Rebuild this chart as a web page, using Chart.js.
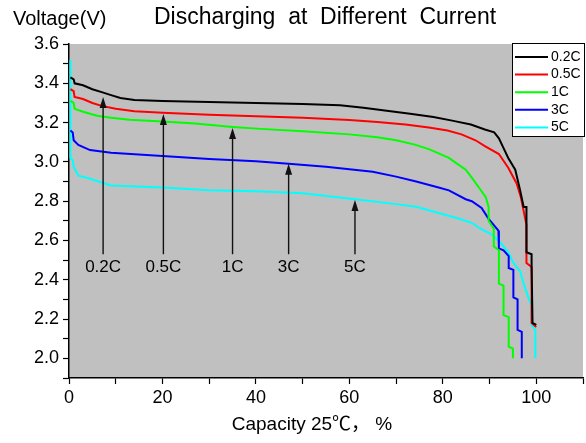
<!DOCTYPE html>
<html>
<head>
<meta charset="utf-8">
<script src="https://cdn.jsdelivr.net/npm/chart.js@4.4.0/dist/chart.umd.min.js"></script>
<style>
  html, body { margin: 0; padding: 0; background: #ffffff; }
  #wrap { width: 586px; height: 443px; position: relative; }
</style>
</head>
<body>
<div id="wrap"><canvas id="c" width="586" height="443"></canvas></div>
<script>
// ---- Data (capacity %, voltage V) ----
const seriesLabels = ['0.2C', '0.5C', '1C', '3C', '5C'];
const seriesColors = ['#000000', '#ff0000', '#00ff00', '#0000ff', '#00ffff'];

const curve02C = [[0.3,3.43],[1,3.42],[1.2,3.40],[3,3.39],[5,3.37],[7,3.355],[9,3.34],[11,3.325],[14,3.315],[20,3.31],[30,3.305],[40,3.30],[50,3.295],[58,3.288],[63,3.275],[68,3.26],[73,3.245],[78,3.228],[82,3.21],[86,3.19],[89,3.165],[91,3.15],[92,3.12],[93,3.07],[94,3.02],[95.5,2.96],[96.5,2.86],[97.3,2.77],[97.9,2.77],[97.9,2.54],[99,2.53],[99,2.47],[99.2,2.18],[100,2.17]];
const curve05C = [[0.3,3.37],[1,3.36],[1.2,3.33],[3,3.32],[5,3.30],[7,3.285],[10,3.27],[14,3.258],[20,3.25],[30,3.24],[40,3.232],[50,3.225],[60,3.213],[66,3.203],[72,3.19],[77,3.175],[81,3.16],[84,3.14],[87,3.11],[89,3.08],[92,3.04],[94,2.97],[95.8,2.89],[96.7,2.82],[97.9,2.68],[97.9,2.485],[99,2.465],[99,2.18],[100,2.16]];
const curve1C = [[0.3,3.31],[1,3.30],[1.2,3.27],[3,3.255],[6,3.235],[9,3.225],[13,3.215],[20,3.205],[27,3.195],[35,3.178],[41,3.168],[50,3.156],[60,3.14],[66,3.125],[70,3.11],[74,3.088],[77,3.065],[79,3.045],[81.3,3.02],[82.8,2.995],[84.9,2.96],[86.2,2.92],[88.1,2.857],[89.2,2.82],[89.8,2.77],[89.8,2.70],[90.9,2.66],[90.9,2.57],[92,2.55],[92,2.38],[93,2.37],[93,2.22],[94.1,2.21],[94.1,2.06],[95,2.05],[95,2.0]];
const curve3C = [[0.3,3.16],[0.8,3.15],[1,3.11],[2,3.086],[4.5,3.06],[9,3.047],[20,3.03],[30,3.015],[40,3.003],[47,2.99],[55,2.975],[65,2.95],[70,2.925],[74.3,2.90],[79.1,2.87],[81.3,2.855],[84.9,2.81],[86.2,2.80],[88.3,2.765],[89.8,2.71],[91.9,2.65],[92,2.56],[93,2.55],[94.1,2.52],[94.1,2.46],[95.1,2.45],[95.1,2.31],[96,2.30],[96,2.145],[96.9,2.135],[96.9,2.0]];
const curve5C = [[0.3,3.52],[0.3,3.02],[0.8,3.01],[1,2.975],[2,2.93],[4,2.918],[9,2.88],[20,2.87],[30,2.855],[40,2.85],[50,2.84],[61.2,2.81],[70,2.785],[74.3,2.772],[79.1,2.74],[83,2.714],[86.2,2.69],[87.7,2.665],[90.5,2.63],[92.3,2.59],[94,2.54],[95,2.49],[96.6,2.44],[97.3,2.38],[98.3,2.31],[99,2.27],[99,2.17],[99.8,2.145],[99.8,2.0]];
const seriesData = [curve02C, curve05C, curve1C, curve3C, curve5C];

// Annotation arrows (capacity, tip voltage, base voltage) and labels
const arrowLabels = ['0.2C', '0.5C', '1C', '3C', '5C'];
const arrowX = [7.3, 20.2, 35, 47, 61.2];
const arrowTipY = [3.33, 3.244, 3.172, 2.99, 2.806];
const arrowBaseY = 2.53;
const arrowLabelY = 2.465;

// Axis ranges / ticks
const xMin = 0, xMax = 110, xStep = 10, xLabelEvery = 20;
const yMin = 1.9, yMax = 3.6, yStep = 0.1;

const titleText = 'Discharging  at  Different  Current';
const yTitleText = 'Voltage(V)';
const xTitleText = 'Capacity 25\u2103\uff0c %';

const FONT = '"Liberation Sans", Arial, "Noto Sans CJK SC", sans-serif';

const bgPlugin = {
  id: 'bg',
  beforeDraw(chart) {
    const {ctx, chartArea: a} = chart;
    ctx.save();
    ctx.fillStyle = '#c0c0c0';
    ctx.fillRect(a.left, a.top, a.right - a.left, a.bottom - a.top);
    ctx.restore();
  }
};

const decoPlugin = {
  id: 'deco',
  afterDraw(chart) {
    const {ctx} = chart;
    const xs = chart.scales.x, ys = chart.scales.y;
    ctx.save();
    // Titles
    ctx.fillStyle = '#000';
    ctx.textBaseline = 'middle';
    ctx.textAlign = 'center';
    ctx.font = '23px ' + FONT;
    ctx.fillText(titleText, 325, 18);
    ctx.textAlign = 'left';
    ctx.font = '20px ' + FONT;
    ctx.fillText(yTitleText, 13, 19);
    ctx.textAlign = 'center';
    ctx.font = '19px ' + FONT;
    ctx.fillText(xTitleText, 312, 425);

    // Arrows
    ctx.lineWidth = 1.4;
    for (let i = 0; i < arrowX.length; i++) {
      const px = xs.getPixelForValue(arrowX[i]);
      const tip = ys.getPixelForValue(arrowTipY[i]);
      const base = ys.getPixelForValue(arrowBaseY);
      ctx.strokeStyle = '#111';
      ctx.fillStyle = '#111';
      ctx.beginPath();
      ctx.moveTo(px, base);
      ctx.lineTo(px, tip + 8);
      ctx.stroke();
      ctx.beginPath();
      ctx.moveTo(px, tip);
      ctx.lineTo(px - 3.5, tip + 11);
      ctx.lineTo(px + 3.5, tip + 11);
      ctx.closePath();
      ctx.fill();
      ctx.font = '17px ' + FONT;
      ctx.textAlign = 'center';
      ctx.textBaseline = 'middle';
      ctx.fillStyle = '#000';
      ctx.fillText(arrowLabels[i], px, ys.getPixelForValue(arrowLabelY));
    }

    // Legend box
    const lx = 512, ly = 43, lw = 73, lh = 94;
    ctx.fillStyle = '#ffffff';
    ctx.fillRect(lx, ly, lw, lh);
    ctx.strokeStyle = '#000';
    ctx.lineWidth = 1;
    ctx.strokeRect(lx + 0.5, ly + 0.5, lw - 1, lh - 1);
    ctx.font = '14px ' + FONT;
    ctx.textAlign = 'left';
    ctx.textBaseline = 'middle';
    chart.data.datasets.forEach((ds, i) => {
      const yy = 57 + i * 17.6;
      ctx.strokeStyle = ds.borderColor;
      ctx.lineWidth = 2;
      ctx.beginPath();
      ctx.moveTo(515, yy);
      ctx.lineTo(548, yy);
      ctx.stroke();
      ctx.fillStyle = '#000';
      ctx.fillText(ds.label, 551, yy);
    });
    ctx.restore();
  }
};

const datasets = seriesLabels.map((lab, i) => ({
  label: lab,
  data: seriesData[i].map(p => ({x: p[0], y: p[1]})),
  borderColor: seriesColors[i],
  backgroundColor: seriesColors[i],
  borderWidth: 2,
  pointRadius: 0,
  showLine: true,
  tension: 0,
  fill: false
}));

new Chart(document.getElementById('c'), {
  type: 'scatter',
  data: { datasets },
  options: {
    responsive: false,
    animation: false,
    layout: { padding: { top: 44, right: 1, left: 0, bottom: 0 } },
    plugins: { legend: { display: false }, title: { display: false }, tooltip: { enabled: false } },
    scales: {
      x: {
        type: 'linear', min: xMin, max: xMax,
        afterFit: s => { s.height = 65; },
        border: { display: true, color: '#000', width: 1.5 },
        grid: { drawOnChartArea: false, drawTicks: true, tickLength: 6, color: '#000', tickWidth: 1.2 },
        ticks: {
          stepSize: xStep, color: '#000', padding: 3, maxRotation: 0, autoSkip: false,
          font: { family: FONT, size: 18 },
          callback: v => (Math.round(v) % xLabelEvery === 0 ? String(Math.round(v)) : '')
        }
      },
      y: {
        type: 'linear', min: yMin, max: yMax,
        afterFit: s => { s.width = 69; },
        border: { display: true, color: '#000', width: 1.5 },
        grid: { drawOnChartArea: false, drawTicks: true, tickLength: 6, color: '#000', tickWidth: 1.2 },
        ticks: {
          stepSize: yStep, color: '#000', padding: 4, autoSkip: false,
          font: { family: FONT, size: 18 },
          callback: v => (Math.round(v * 10) % 2 === 0 ? (Math.round(v * 10) / 10).toFixed(1) : '')
        }
      }
    }
  },
  plugins: [bgPlugin, decoPlugin]
});
</script>
</body>
</html>
